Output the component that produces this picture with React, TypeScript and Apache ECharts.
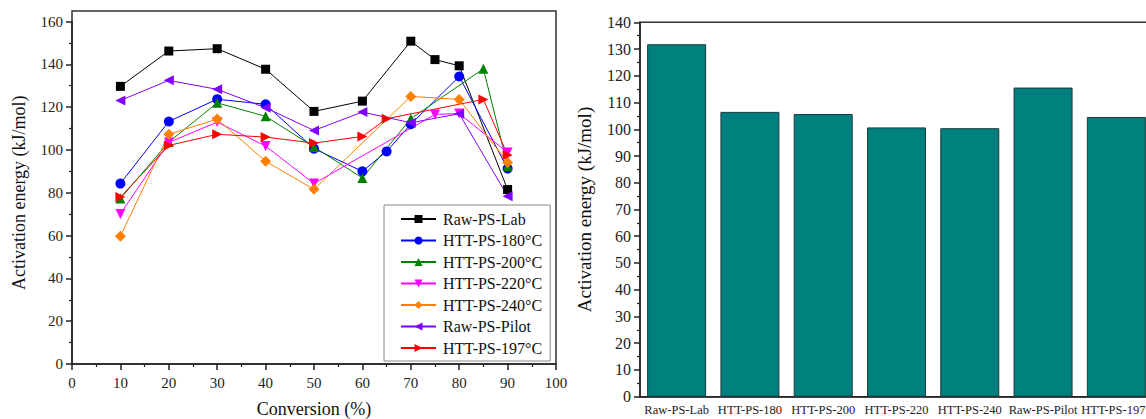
import React, { useEffect, useRef } from "react";
import * as echarts from "echarts";

// Left panel: activation energy versus conversion for each sample
const rawLabX = [10, 20, 30, 40, 50, 60, 70, 75, 80, 90];
const rawLabY = [129.7, 146.2, 147.3, 137.7, 118, 122.8, 150.8, 142.2, 139.3, 81.5];

const htt180X = [10, 20, 30, 40, 50, 60, 65, 70, 80, 90];
const htt180Y = [84.3, 113.3, 123.7, 121.3, 100.6, 90, 99.3, 112, 134.3, 91.3];

const htt200X = [10, 20, 30, 40, 50, 60, 70, 85, 90];
const htt200Y = [77.3, 103.7, 122, 115.7, 101.4, 86.9, 114.6, 137.9, 92.5];

const htt220X = [10, 20, 30, 40, 50, 75, 80, 90];
const htt220Y = [70.1, 103.5, 113, 101.8, 84.3, 116.6, 117, 98.8];

const htt240X = [10, 20, 30, 40, 50, 70, 80, 90];
const htt240Y = [59.7, 107.3, 114.4, 94.7, 81.6, 125, 123.6, 94.1];

const rawPilotX = [10, 20, 30, 40, 50, 60, 70, 80, 90];
const rawPilotY = [123.1, 132.5, 128.3, 119.7, 109.1, 117.7, 112.7, 116.9, 78.4];

const htt197X = [10, 20, 30, 40, 50, 60, 65, 85, 90];
const htt197Y = [78, 102.1, 107.3, 106, 103.2, 106.3, 114.6, 123.6, 97.6];

// Right panel: mean activation energy per sample
const barCategories = [
  "Raw-PS-Lab",
  "HTT-PS-180",
  "HTT-PS-200",
  "HTT-PS-220",
  "HTT-PS-240",
  "Raw-PS-Pilot",
  "HTT-PS-197",
];
const barValues = [131.8, 106.5, 105.7, 100.7, 100.4, 115.6, 104.6];

const FONT = "'Liberation Serif', 'Times New Roman', serif";

type LineDef = {
  name: string;
  xs: number[];
  ys: number[];
  color: string;
  symbol: string;
  rotate: number;
  size: number;
};

const lineDefs: LineDef[] = [
  { name: "Raw-PS-Lab", xs: rawLabX, ys: rawLabY, color: "#000000", symbol: "rect", rotate: 0, size: 9 },
  { name: "HTT-PS-180°C", xs: htt180X, ys: htt180Y, color: "#0000ff", symbol: "circle", rotate: 0, size: 10 },
  { name: "HTT-PS-200°C", xs: htt200X, ys: htt200Y, color: "#008000", symbol: "triangle", rotate: 0, size: 10 },
  { name: "HTT-PS-220°C", xs: htt220X, ys: htt220Y, color: "#ff00ff", symbol: "triangle", rotate: 180, size: 10 },
  { name: "HTT-PS-240°C", xs: htt240X, ys: htt240Y, color: "#ff8000", symbol: "diamond", rotate: 0, size: 11 },
  { name: "Raw-PS-Pilot", xs: rawPilotX, ys: rawPilotY, color: "#8000ff", symbol: "triangle", rotate: 90, size: 10 },
  { name: "HTT-PS-197°C", xs: htt197X, ys: htt197Y, color: "#ff0000", symbol: "triangle", rotate: -90, size: 10 },
];

export default function App() {
  const ref = useRef<HTMLDivElement>(null);

  useEffect(() => {
    if (!ref.current) return;
    const chart = echarts.init(ref.current, null, { renderer: "svg" });

    const axisLineStyle = { color: "#222", width: 1.5 };
    const labelStyle = { color: "#222", fontFamily: FONT };
    const lastBar = barCategories.length - 1;

    const lineSeries = lineDefs.map((d) => ({
      type: "line",
      name: d.name,
      xAxisIndex: 0,
      yAxisIndex: 0,
      data: d.xs.map((x, i) => [x, d.ys[i]]),
      symbol: d.symbol,
      symbolRotate: d.rotate,
      symbolSize: d.size,
      showAllSymbol: true,
      lineStyle: { color: d.color, width: 1 },
      itemStyle: { color: d.color },
      emphasis: { disabled: true },
    }));

    chart.setOption({
      animation: false,
      textStyle: { fontFamily: FONT },
      grid: [
        { left: 72, top: 21.5, width: 484, height: 342.5, outerBoundsMode: "none", containLabel: false },
        {
          left: 640,
          top: 22.3,
          width: 513,
          height: 374.4,
          outerBoundsMode: "none",
          containLabel: false,
          show: true,
          borderColor: "#333",
          borderWidth: 1.5,
          backgroundColor: "transparent",
        },
      ],
      legend: {
        data: lineDefs.map((d) => d.name),
        orient: "vertical",
        left: 384,
        top: 205,
        padding: [6, 8, 5, 16],
        itemWidth: 35,
        itemHeight: 10,
        itemGap: 5.5,
        borderColor: "#888",
        borderWidth: 1,
        textStyle: { fontFamily: FONT, fontSize: 16, color: "#111", padding: [0, 0, 0, 2] },
        selectedMode: false,
      },
      xAxis: [
        {
          type: "value",
          gridIndex: 0,
          min: 0,
          max: 100,
          interval: 10,
          name: "Conversion (%)",
          nameLocation: "middle",
          nameGap: 36,
          nameTextStyle: { fontFamily: FONT, fontSize: 18, color: "#111" },
          axisLine: { show: true, lineStyle: axisLineStyle },
          axisTick: { show: true, length: 6, lineStyle: axisLineStyle },
          minorTick: { show: true, splitNumber: 2, length: 3, lineStyle: { color: "#222", width: 1.2 } },
          axisLabel: { ...labelStyle, fontSize: 15, margin: 11 },
          splitLine: { show: false },
        },
        {
          type: "category",
          gridIndex: 1,
          data: barCategories,
          axisLine: { show: true, lineStyle: axisLineStyle },
          axisTick: { show: false },
          axisLabel: {
            ...labelStyle,
            fontSize: 12.5,
            margin: 7,
            interval: 0,
            // the right-most label sits at the page edge; nudge it inward a little
            formatter: (v: string, i: number) => (i === lastBar ? `{edge|${v}}` : v),
            rich: {
              edge: { fontFamily: FONT, fontSize: 12.5, color: "#222", padding: [0, 6, 0, 0] },
            },
          },
          splitLine: { show: false },
        },
      ],
      yAxis: [
        {
          type: "value",
          gridIndex: 0,
          min: 0,
          max: 160,
          interval: 20,
          name: "Activation energy (kJ/mol)",
          nameLocation: "middle",
          nameGap: 44,
          nameTextStyle: { fontFamily: FONT, fontSize: 18, color: "#111" },
          axisLine: { show: true, lineStyle: axisLineStyle },
          axisTick: { show: true, length: 6, lineStyle: axisLineStyle },
          minorTick: { show: true, splitNumber: 2, length: 3, lineStyle: { color: "#222", width: 1.2 } },
          axisLabel: { ...labelStyle, fontSize: 15, margin: 9 },
          splitLine: { show: false },
        },
        {
          type: "value",
          gridIndex: 1,
          min: 0,
          max: 140,
          interval: 10,
          name: "Activation energy (kJ/mol)",
          nameLocation: "middle",
          nameGap: 46,
          nameTextStyle: { fontFamily: FONT, fontSize: 19, color: "#111" },
          axisLine: { show: true, lineStyle: axisLineStyle },
          axisTick: { show: true, length: 6, lineStyle: axisLineStyle },
          minorTick: { show: true, splitNumber: 2, length: 3, lineStyle: { color: "#222", width: 1.2 } },
          axisLabel: { ...labelStyle, fontSize: 16, margin: 9 },
          splitLine: { show: false },
        },
      ],
      graphic: [
        {
          type: "rect",
          shape: { x: 72, y: 11, width: 484, height: 353 },
          style: { fill: "none", stroke: "#333", lineWidth: 1.5 },
          silent: true,
          z: 0,
        },
      ],
      series: [
        ...lineSeries,
        {
          type: "bar",
          xAxisIndex: 1,
          yAxisIndex: 1,
          data: barValues,
          barCategoryGap: "19.5%",
          itemStyle: { color: "#007f7f", borderColor: "#1d3a3a", borderWidth: 1 },
          emphasis: { disabled: true },
        },
      ],
    });

    return () => chart.dispose();
  }, []);

  return (
    <div
      ref={ref}
      style={{ position: "absolute", left: 0, top: 0, width: 1146, height: 419, background: "#fff" }}
    />
  );
}
